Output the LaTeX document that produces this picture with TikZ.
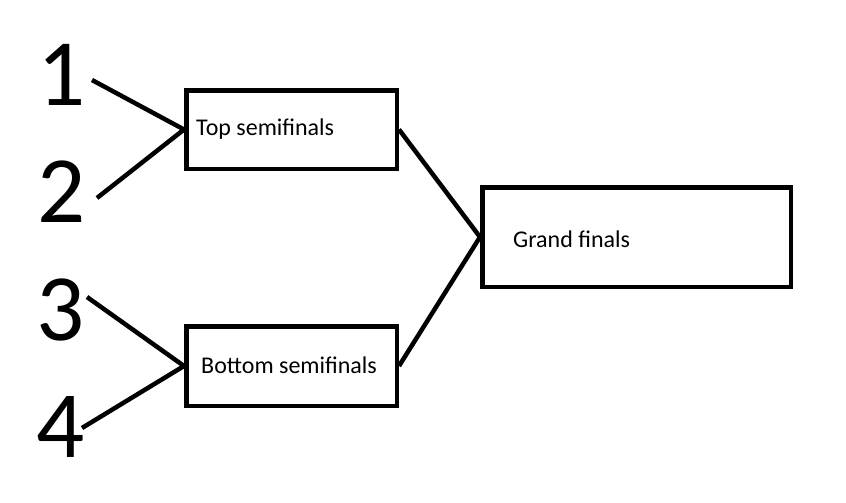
\documentclass[tikz,border=0pt]{standalone}
\usepackage{fontspec}
\setmainfont{Carlito}
\begin{document}
\begin{tikzpicture}[x=1pt,y=-1pt,
  box/.style={draw,line width=4.5pt,inner sep=0pt},
  lbl/.style={anchor=base west,inner sep=0pt,font=\fontsize{24}{28}\selectfont},
  num/.style={inner sep=0pt,font=\fontsize{95}{100}\selectfont},
  wire/.style={line width=4.5pt}]
\useasboundingbox (0,0) rectangle (846,503);
\node[box,minimum width=210.5pt,minimum height=78.5pt] (top) at (291.5,129.5) {};
\node[box,minimum width=210.5pt,minimum height=79.5pt] (bot) at (291.5,366) {};
\node[box,minimum width=308.5pt,minimum height=99.5pt] (gf) at (636.5,237) {};
\node[lbl] (toplbl) at (196,135) {Top semifinals};
\node[lbl] (botlbl) at (201,373) {Bottom semifinals};
\node[lbl] (gflbl) at (513,247) {Grand finals};
\node[num,anchor=base] (n1) at (62,105) {1};
\node[num,anchor=base] (n2) at (62,222) {2};
\node[num,anchor=base] (n3) at (61,340) {3};
\node[num,anchor=base] (n4) at (61,457) {4};
\coordinate (e1) at (92,80);
\coordinate (e2) at (97,198);
\coordinate (e3) at (87,297);
\coordinate (e4) at (82,428);
\draw[wire] (e1) -- (top.west);
\draw[wire] (e2) -- (top.west);
\draw[wire] (e3) -- (bot.west);
\draw[wire] (e4) -- (bot.west);
\draw[wire] (top.east) -- (gf.west);
\draw[wire] (bot.east) -- (gf.west);
\end{tikzpicture}
\end{document}
